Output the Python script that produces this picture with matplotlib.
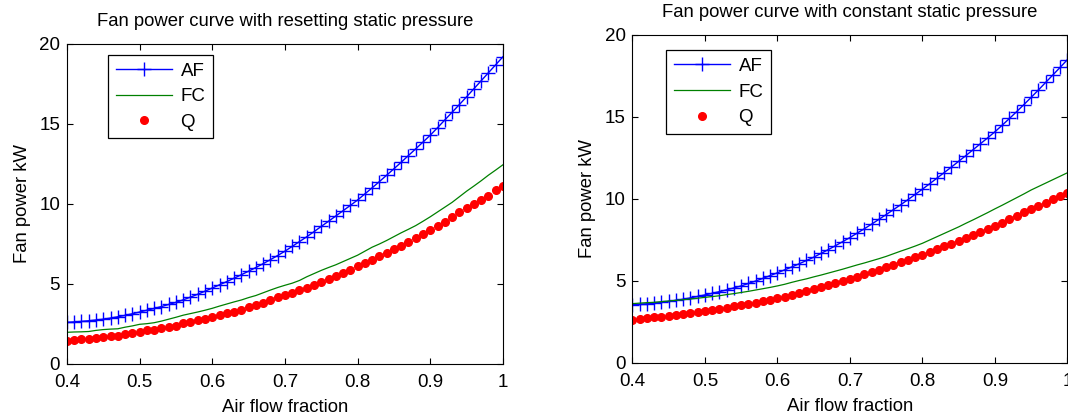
import matplotlib
matplotlib.use("Agg")
import matplotlib.pyplot as plt
import numpy as np

plt.rcParams['font.family'] = ['Liberation Sans', 'DejaVu Sans']

# air flow fraction 0.40 ... 1.00
x = np.round(np.arange(40, 101) / 100.0, 2)

# resetting static pressure
af_reset = [2.60, 2.63, 2.66, 2.70, 2.75, 2.80, 2.87, 2.95, 3.04, 3.14,
            3.25, 3.36, 3.47, 3.59, 3.72, 3.85, 4.01, 4.18, 4.36, 4.55,
            4.75, 4.95, 5.15, 5.36, 5.58, 5.80, 6.03, 6.27, 6.52, 6.78,
            7.05, 7.35, 7.65, 7.95, 8.27, 8.60, 8.92, 9.25, 9.58, 9.91,
            10.25, 10.63, 11.01, 11.40, 11.80, 12.20, 12.61, 13.03, 13.45, 13.87,
            14.30, 14.77, 15.25, 15.73, 16.21, 16.70, 17.20, 17.70, 18.20, 18.70,
            19.20]
fc_reset = [1.98, 2.00, 2.01, 2.03, 2.10, 2.15, 2.18, 2.20, 2.30, 2.38,
            2.48, 2.52, 2.58, 2.68, 2.80, 2.92, 3.05, 3.15, 3.25, 3.36,
            3.48, 3.62, 3.75, 3.88, 4.00, 4.15, 4.28, 4.45, 4.62, 4.78,
            4.92, 5.05, 5.22, 5.45, 5.65, 5.85, 6.03, 6.20, 6.40, 6.60,
            6.80, 7.05, 7.30, 7.50, 7.72, 7.96, 8.20, 8.42, 8.65, 8.92,
            9.20, 9.50, 9.80, 10.10, 10.45, 10.80, 11.12, 11.45, 11.80, 12.12,
            12.45]
q_reset = [1.45, 1.48, 1.55, 1.57, 1.64, 1.68, 1.72, 1.78, 1.86, 1.94,
           2.03, 2.10, 2.12, 2.22, 2.30, 2.40, 2.55, 2.65, 2.72, 2.82,
           2.93, 3.08, 3.18, 3.25, 3.40, 3.55, 3.70, 3.83, 4.00, 4.17,
           4.33, 4.45, 4.60, 4.78, 4.96, 5.15, 5.32, 5.52, 5.70, 5.90,
           6.10, 6.32, 6.50, 6.75, 6.95, 7.20, 7.40, 7.62, 7.85, 8.10,
           8.38, 8.62, 8.90, 9.20, 9.48, 9.75, 10.00, 10.25, 10.50, 10.85,
           11.15]

# constant static pressure
af_const = [3.55, 3.58, 3.61, 3.64, 3.69, 3.75, 3.82, 3.89, 3.97, 4.06,
            4.15, 4.25, 4.35, 4.46, 4.58, 4.70, 4.85, 5.00, 5.16, 5.33,
            5.50, 5.68, 5.86, 6.05, 6.25, 6.45, 6.68, 6.91, 7.15, 7.40,
            7.65, 7.92, 8.19, 8.47, 8.76, 9.05, 9.35, 9.65, 9.96, 10.28,
            10.60, 10.93, 11.27, 11.61, 11.95, 12.30, 12.65, 13.01, 13.37, 13.73,
            14.10, 14.50, 14.91, 15.33, 15.76, 16.20, 16.65, 17.11, 17.57, 18.03,
            18.50]
fc_const = [3.62, 3.65, 3.68, 3.70, 3.74, 3.78, 3.82, 3.86, 3.90, 3.95,
            4.00, 4.05, 4.10, 4.17, 4.23, 4.30, 4.37, 4.45, 4.53, 4.61,
            4.70, 4.80, 4.92, 5.03, 5.13, 5.25, 5.36, 5.48, 5.60, 5.72,
            5.85, 5.98, 6.10, 6.23, 6.36, 6.50, 6.66, 6.82, 6.97, 7.13,
            7.30, 7.50, 7.70, 7.90, 8.10, 8.30, 8.52, 8.73, 8.95, 9.17,
            9.40, 9.62, 9.85, 10.08, 10.31, 10.55, 10.76, 10.97, 11.18, 11.39,
            11.60]
q_const = [2.65, 2.70, 2.73, 2.78, 2.82, 2.87, 2.92, 2.98, 3.05, 3.10,
           3.18, 3.25, 3.32, 3.38, 3.45, 3.52, 3.60, 3.68, 3.77, 3.86,
           3.95, 4.05, 4.15, 4.27, 4.38, 4.50, 4.62, 4.74, 4.86, 4.98,
           5.10, 5.25, 5.40, 5.55, 5.70, 5.85, 6.00, 6.15, 6.30, 6.45,
           6.60, 6.77, 6.94, 7.11, 7.28, 7.45, 7.63, 7.81, 7.99, 8.17,
           8.35, 8.56, 8.77, 8.98, 9.19, 9.40, 9.59, 9.78, 9.97, 10.16,
           10.35]

xticks = [0.4, 0.5, 0.6, 0.7, 0.8, 0.9, 1.0]
xtick_labels = ["0.4", "0.5", "0.6", "0.7", "0.8", "0.9", "1"]
yticks = [0, 5, 10, 15, 20]

fig = plt.figure(figsize=(10.68, 4.19), dpi=100)
ax1 = fig.add_axes([0.0627, 0.1313, 0.4082, 0.7637])
ax2 = fig.add_axes([0.5922, 0.1337, 0.4073, 0.7828])


def draw(ax, af, fc, q, title, leg_pos):
    ax.plot(x, af, color="blue", lw=1.0, marker="+", ms=10, mew=1.0, label="AF")
    ax.plot(x, fc, color="#008000", lw=0.9, label="FC")
    ax.plot(x, q, color="red", lw=0, marker="o", ms=5.5, mec="red", label="Q")
    ax.set_xlim(0.4, 1.0)
    ax.set_ylim(0, 20)
    ax.set_xticks(xticks)
    ax.set_xticklabels(xtick_labels)
    ax.set_yticks(yticks)
    ax.tick_params(direction="in", top=True, right=True, length=4,
                   labelsize=13.5, width=0.8)
    ax.tick_params(axis="x", pad=7)
    ax.tick_params(axis="y", pad=5)
    for s in ax.spines.values():
        s.set_linewidth(0.8)
    ax.set_title(title, fontsize=13.3, pad=13)
    ax.set_xlabel("Air flow fraction", fontsize=13.3, labelpad=6)
    ax.set_ylabel("Fan power kW", fontsize=13.3, labelpad=6)
    leg = ax.legend(loc="upper left", bbox_to_anchor=leg_pos, fontsize=13.5,
                    frameon=True, fancybox=False, framealpha=1,
                    edgecolor="black", handlelength=3.0, borderpad=0.4,
                    labelspacing=0.45, handletextpad=0.45, borderaxespad=0)
    leg.get_frame().set_linewidth(0.9)


draw(ax1, af_reset, fc_reset, q_reset,
     "Fan power curve with resetting static pressure", (0.095, 0.965))
draw(ax2, af_const, fc_const, q_const,
     "Fan power curve with constant static pressure", (0.078, 0.953))

fig.savefig("out.png", dpi=100)
